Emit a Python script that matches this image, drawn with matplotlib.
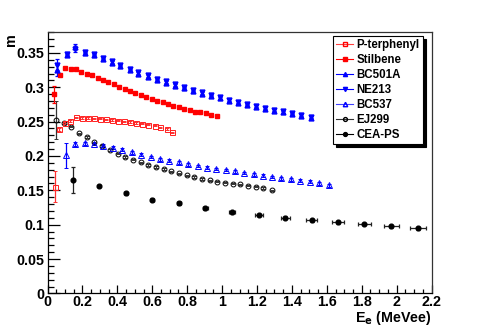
import matplotlib
matplotlib.use("Agg")
import matplotlib.pyplot as plt
from matplotlib.lines import Line2D
from matplotlib.ticker import MultipleLocator

plt.rcParams['font.family'] = ['Liberation Sans', 'DejaVu Sans']
plt.rcParams['font.weight'] = 'bold'

# P-terphenyl (open squares)
pt_x = [0.044, 0.068, 0.098, 0.131, 0.164, 0.199, 0.233, 0.268, 0.302, 0.337, 0.371,
        0.406, 0.440, 0.475, 0.509, 0.544, 0.578, 0.613, 0.647, 0.682, 0.716]
pt_y = [0.1555, 0.2390, 0.2478, 0.2510, 0.2560, 0.2555, 0.2552, 0.2548, 0.2543, 0.2535, 0.2525,
        0.2515, 0.2505, 0.2495, 0.2482, 0.2470, 0.2455, 0.2440, 0.2415, 0.2390, 0.2345]
pt_e = [0.023, 0.002, 0.002, 0.001, 0.001, 0.001, 0.001, 0.001, 0.001, 0.001, 0.001,
        0.001, 0.001, 0.001, 0.001, 0.001, 0.001, 0.001, 0.001, 0.001, 0.001]

# Stilbene (filled squares)
st_x = [0.038, 0.070, 0.101, 0.132, 0.163, 0.194, 0.225, 0.256, 0.287, 0.318, 0.349,
        0.380, 0.411, 0.442, 0.473, 0.504, 0.535, 0.566, 0.597, 0.628, 0.659,
        0.690, 0.721, 0.752, 0.783, 0.814, 0.845, 0.876, 0.907, 0.938, 0.969]
st_y = [0.2895, 0.3178, 0.3274, 0.3270, 0.3260, 0.3226, 0.3200, 0.3172, 0.3138, 0.3100, 0.3070,
        0.3040, 0.3007, 0.2978, 0.2940, 0.2915, 0.2886, 0.2862, 0.2832, 0.2803, 0.2779,
        0.2755, 0.2730, 0.2706, 0.2687, 0.2665, 0.2647, 0.2633, 0.2619, 0.2600, 0.2578]
st_e = [0.012, 0.002, 0.001, 0.001, 0.001, 0.001, 0.001, 0.001, 0.001, 0.001, 0.001,
        0.001, 0.001, 0.001, 0.001, 0.001, 0.001, 0.001, 0.001, 0.001, 0.001,
        0.001, 0.001, 0.001, 0.001, 0.001, 0.001, 0.001, 0.001, 0.001, 0.001]

# BC501A / NE213 (triangles up / down)
bl_x = [0.057, 0.109, 0.160, 0.212, 0.264, 0.315, 0.367, 0.418, 0.470, 0.521, 0.573,
        0.625, 0.676, 0.728, 0.780, 0.831, 0.883, 0.934, 0.986, 1.037, 1.089,
        1.141, 1.192, 1.244, 1.296, 1.347, 1.399, 1.450, 1.507]
bc501_y = [0.3250, 0.3470, 0.3590, 0.3495, 0.3465, 0.3410, 0.3355, 0.3305, 0.3250, 0.3200, 0.3152,
           0.3105, 0.3065, 0.3025, 0.2985, 0.2942, 0.2905, 0.2872, 0.2838, 0.2803, 0.2773,
           0.2742, 0.2716, 0.2688, 0.2660, 0.2635, 0.2610, 0.2585, 0.2555]
bc501_e = [0.008, 0.002, 0.004, 0.002, 0.002, 0.002, 0.002, 0.002, 0.002, 0.002, 0.002,
           0.002, 0.002, 0.002, 0.002, 0.002, 0.002, 0.002, 0.002, 0.002, 0.002,
           0.002, 0.002, 0.002, 0.002, 0.002, 0.002, 0.002, 0.002]
ne213_y = [0.3330, 0.3490, 0.3560, 0.3515, 0.3485, 0.3430, 0.3375, 0.3325, 0.3270, 0.3220, 0.3172,
           0.3125, 0.3085, 0.3045, 0.3005, 0.2962, 0.2925, 0.2890, 0.2855, 0.2820, 0.2790,
           0.2758, 0.2732, 0.2704, 0.2676, 0.2650, 0.2625, 0.2600, 0.2570]

# BC537 (open triangles)
bc537_x = [0.107, 0.160, 0.213, 0.267, 0.320, 0.374, 0.428, 0.482, 0.536, 0.590, 0.644,
           0.698, 0.752, 0.806, 0.860, 0.914, 0.968, 1.022, 1.075, 1.128, 1.181,
           1.234, 1.287, 1.340, 1.394, 1.447, 1.502, 1.556, 1.610]
bc537_y = [0.2010, 0.2180, 0.2182, 0.2175, 0.2150, 0.2118, 0.2090, 0.2055, 0.2020, 0.1985, 0.1950,
           0.1930, 0.1905, 0.1880, 0.1855, 0.1832, 0.1812, 0.1795, 0.1775, 0.1752, 0.1732,
           0.1714, 0.1695, 0.1676, 0.1660, 0.1640, 0.1627, 0.1602, 0.1572]
bc537_e = [0.018, 0.003, 0.002, 0.002, 0.002, 0.002, 0.002, 0.002, 0.002, 0.002, 0.002,
           0.002, 0.002, 0.002, 0.002, 0.002, 0.002, 0.002, 0.002, 0.002, 0.002,
           0.002, 0.002, 0.002, 0.002, 0.002, 0.002, 0.002, 0.002]

# EJ299 (open circles)
ej_x = [0.049, 0.093, 0.137, 0.181, 0.225, 0.269, 0.313, 0.357, 0.401, 0.445, 0.489,
        0.533, 0.577, 0.621, 0.665, 0.709, 0.753, 0.797, 0.841, 0.885, 0.929,
        0.973, 1.017, 1.061, 1.105, 1.149, 1.193, 1.237, 1.285]
ej_y = [0.2520, 0.2480, 0.2425, 0.2330, 0.2274, 0.2200, 0.2143, 0.2085, 0.2035, 0.1985, 0.1945,
        0.1905, 0.1870, 0.1840, 0.1808, 0.1778, 0.1748, 0.1720, 0.1693, 0.1667, 0.1645,
        0.1625, 0.1610, 0.1596, 0.1585, 0.1568, 0.1552, 0.1532, 0.1498]
ej_e = [0.028, 0.001, 0.001, 0.001, 0.001, 0.001, 0.001, 0.001, 0.001, 0.001, 0.001,
        0.001, 0.001, 0.001, 0.001, 0.001, 0.001, 0.001, 0.001, 0.001, 0.001,
        0.001, 0.001, 0.001, 0.001, 0.001, 0.001, 0.001, 0.001]

# CEA-PS (filled circles)
cea_x = [0.145, 0.296, 0.447, 0.600, 0.752, 0.905, 1.058, 1.213, 1.362, 1.513, 1.665, 1.816, 1.970, 2.120]
cea_y = [0.1647, 0.1564, 0.1458, 0.1365, 0.1310, 0.1240, 0.1180, 0.1140, 0.1100, 0.1064,
         0.1035, 0.1010, 0.0977, 0.0947]
cea_ex = [0.004, 0.006, 0.008, 0.010, 0.012, 0.015, 0.018, 0.022, 0.026, 0.030, 0.034, 0.038, 0.042, 0.046]
cea_ey = [0.019, 0.002, 0.002, 0.002, 0.002, 0.002, 0.002, 0.002, 0.002, 0.002, 0.002, 0.002, 0.002, 0.002]

fig = plt.figure(figsize=(4.8, 3.26), dpi=100)
ax = fig.add_axes([0.099, 0.100, 0.800, 0.801])

kw = dict(linestyle='none', capsize=1.5, elinewidth=0.9, capthick=0.9)
ax.errorbar(ej_x, ej_y, yerr=ej_e, fmt='o', ms=3.5, mfc='none', mec='black', mew=0.7,
            ecolor='#333333', **kw)
ax.errorbar(pt_x, pt_y, yerr=pt_e, fmt='s', ms=3.6, mfc='none', mec='#ff2020', mew=0.7,
            ecolor='#ff3030', **kw)
ax.errorbar(st_x, st_y, yerr=st_e, fmt='s', ms=3.0, color='red', ecolor='red', **kw)
ax.errorbar(bl_x, bc501_y, yerr=bc501_e, fmt='^', ms=3.5, color='blue', ecolor='blue', **kw)
ax.errorbar(bl_x, ne213_y, yerr=bc501_e, fmt='v', ms=3.5, color='blue', ecolor='blue', **kw)
ax.errorbar(bc537_x, bc537_y, yerr=bc537_e, fmt='^', ms=3.7, mfc='none', mec='blue', mew=0.7,
            ecolor='blue', **kw)
ax.errorbar(cea_x, cea_y, xerr=cea_ex, yerr=cea_ey, fmt='o', ms=3.4, color='black',
            ecolor='#222222', **kw)

ax.set_xlim(0, 2.2)
ax.set_ylim(0, 0.38)
ax.xaxis.set_minor_locator(MultipleLocator(0.05))
ax.yaxis.set_minor_locator(MultipleLocator(0.01))
ax.set_xticks([0, 0.2, 0.4, 0.6, 0.8, 1, 1.2, 1.4, 1.6, 1.8, 2, 2.2])
ax.set_xticklabels(['0', '0.2', '0.4', '0.6', '0.8', '1', '1.2', '1.4', '1.6', '1.8', '2', '2.2'])
ax.set_yticks([0, 0.05, 0.1, 0.15, 0.2, 0.25, 0.3, 0.35])
ax.set_yticklabels(['0', '0.05', '0.1', '0.15', '0.2', '0.25', '0.3', '0.35'])
ax.tick_params(axis='both', which='both', direction='in', labelsize=10.3, colors='black')
ax.tick_params(axis='y', which='major', length=8.5, width=0.9, pad=2)
ax.tick_params(axis='y', which='minor', length=4.5, width=0.9)
ax.tick_params(axis='x', which='major', length=6, width=0.9, pad=1)
ax.tick_params(axis='x', which='minor', length=3, width=0.9)
for lab in ax.get_xticklabels() + ax.get_yticklabels():
    lab.set_fontweight('bold')
for sp in ax.spines.values():
    sp.set_linewidth(0.9)
ax.spines['top'].set_color('#333333')
ax.spines['right'].set_color('#333333')

fig.text(0.899, 1 - 322 / 326, r'E$_{\mathbf{e}}$ (MeVee)', ha='right', va='baseline',
         fontsize=10.3, fontweight='bold')
fig.text(0.022, 0.877, 'm', rotation=90, ha='center', va='center',
         fontsize=10.3, fontweight='bold')

handles = [
    Line2D([], [], color='#ff4040', marker='s', ms=3.0, mfc='none', mec='red', lw=0.8),
    Line2D([], [], color='red', marker='s', ms=2.8, lw=0.8),
    Line2D([], [], color='blue', marker='^', ms=3.0, lw=0.8),
    Line2D([], [], color='blue', marker='v', ms=3.0, lw=0.8),
    Line2D([], [], color='#4040ff', marker='^', ms=3.2, mfc='none', mec='blue', lw=0.8),
    Line2D([], [], color='#333333', marker='o', ms=2.8, mfc='none', mec='black', lw=0.8),
    Line2D([], [], color='black', marker='o', ms=2.8, lw=0.8),
]
labels = ['P-terphenyl', 'Stilbene', 'BC501A', 'NE213', 'BC537', 'EJ299', 'CEA-PS']
leg = fig.legend(handles, labels, loc='upper left', bbox_to_anchor=(333 / 480, 1 - 36 / 326),
                 borderaxespad=0, fancybox=False, edgecolor='black', framealpha=1,
                 shadow={'color': 'black', 'alpha': 1}, prop={'size': 8.3, 'weight': 'bold'},
                 handlelength=1.4, handletextpad=0.35, labelspacing=0.25, borderpad=0.3)
leg.get_frame().set_linewidth(0.8)

fig.savefig('out.png', dpi=100)
